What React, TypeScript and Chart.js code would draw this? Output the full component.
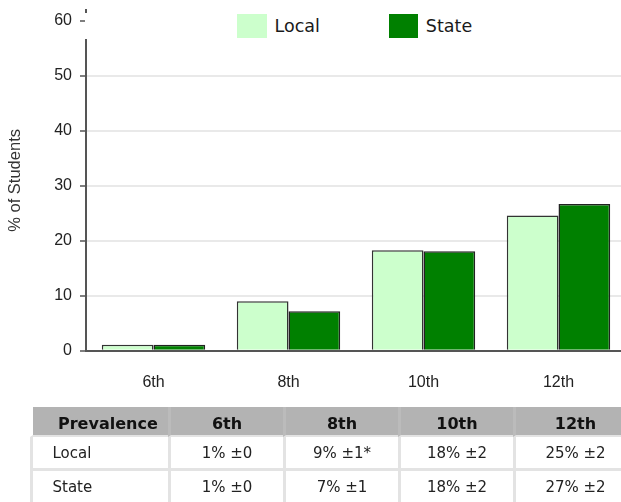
import React, { useEffect, useRef } from "react";
import { Chart, registerables } from "chart.js";

Chart.register(...registerables);

const categories = ["6th", "8th", "10th", "12th"];
const localValues = [1.1, 9.0, 18.3, 24.6];
const stateValues = [1.1, 7.2, 18.1, 26.7];
const yMax = 62;
const yStep = 10;

const seriesNames = ["Local", "State"];
const seriesColors = ["#ccffcc", "#008000"];

const tableHeaders = ["Prevalence", "6th", "8th", "10th", "12th"];
const localTable = ["1% ±0", "9% ±1*", "18% ±2", "25% ±2"];
const stateTable = ["1% ±0", "7% ±1", "18% ±2", "27% ±2"];
const colWidths = [138, 115, 115, 115, 122];

const tableFont = '"DejaVu Sans", Verdana, sans-serif';
const axisFont = '"Liberation Sans", Arial, sans-serif';

export default function App() {
  const canvasRef = useRef<HTMLCanvasElement | null>(null);

  useEffect(() => {
    const canvas = canvasRef.current;
    if (!canvas) return;
    const chart = new Chart(canvas, {
      type: "bar",
      data: {
        labels: categories,
        datasets: [
          {
            label: seriesNames[0],
            data: localValues,
            backgroundColor: seriesColors[0],
            borderColor: "#333333",
            borderWidth: 1.5,
            categoryPercentage: 0.766,
            barPercentage: 1.0,
          },
          {
            label: seriesNames[1],
            data: stateValues,
            backgroundColor: seriesColors[1],
            borderColor: "#222222",
            borderWidth: 1.5,
            categoryPercentage: 0.766,
            barPercentage: 1.0,
          },
        ],
      },
      options: {
        responsive: false,
        animation: false,
        devicePixelRatio: 1,
        layout: { padding: { top: 10, bottom: 0, left: 0, right: 0 } },
        plugins: {
          legend: { display: false },
          tooltip: { enabled: false },
        },
        scales: {
          x: {
            grid: { display: true, drawOnChartArea: false, drawTicks: false },
            border: { display: true, color: "#555555", width: 2 },
            ticks: {
              padding: 22,
              color: "#222222",
              font: { family: axisFont, size: 16 },
            },
          },
          y: {
            min: 0,
            max: yMax,
            afterFit: (scale: any) => {
              scale.width = 86;
              scale.paddingTop = 0;
              scale.paddingBottom = 0;
            },
            ticks: {
              stepSize: yStep,
              includeBounds: false,
              padding: 8,
              color: "#222222",
              font: { family: axisFont, size: 16 },
            },
            grid: {
              color: "#e9e9e9",
              lineWidth: 2,
              tickColor: "#555555",
              tickLength: 6,
              tickWidth: 1.5,
            },
            border: { display: true, color: "#555555", width: 2 },
            title: {
              display: true,
              text: "% of Students",
              color: "#333333",
              padding: { top: 6, bottom: 0 },
              font: { family: axisFont, size: 16.5 },
            },
          },
        },
      },
    });
    return () => chart.destroy();
  }, []);

  const thBase: React.CSSProperties = {
    background: "#b3b3b3",
    height: 30,
    padding: "5px 0 0 0",
    boxSizing: "border-box",
    fontFamily: tableFont,
    fontWeight: "bold",
    fontSize: 16,
    color: "#111111",
    textAlign: "center",
    borderBottom: "2px solid #e3e3e3",
    borderLeft: "3px solid #bbbbbb",
  };
  const tdBase: React.CSSProperties = {
    background: "#ffffff",
    height: 34,
    padding: 0,
    boxSizing: "border-box",
    fontFamily: tableFont,
    fontSize: 15,
    color: "#222222",
    textAlign: "center",
    borderLeft: "3px solid #e3e3e3",
    borderBottom: "3px solid #e3e3e3",
  };

  const renderRow = (name: string, values: string[]) => (
    <tr>
      <td style={{ ...tdBase, textAlign: "left", paddingLeft: 19.5 }}>{name}</td>
      {values.map((v, i) => (
        <td key={i} style={tdBase}>
          {v}
        </td>
      ))}
    </tr>
  );

  return (
    <div
      style={{
        position: "relative",
        width: 621,
        height: 502,
        overflow: "hidden",
        background: "#ffffff",
      }}
    >
      <style>{`body{margin:0;}`}</style>
      <canvas
        ref={canvasRef}
        width={626}
        height={414}
        style={{ display: "block", width: 626, height: 414 }}
      />
      <div
        style={{
          position: "absolute",
          left: 85,
          top: 13,
          right: 0,
          height: 26,
          background: "#ffffff",
          display: "flex",
          alignItems: "center",
          paddingLeft: 152,
          fontFamily: tableFont,
          fontSize: 17.5,
          color: "#1a1a1a",
        }}
      >
        <span
          style={{
            display: "inline-block",
            width: 29.5,
            height: 24,
            background: seriesColors[0],
            marginRight: 8,
          }}
        />
        <span style={{ marginRight: 69 }}>{seriesNames[0]}</span>
        <span
          style={{
            display: "inline-block",
            width: 29.5,
            height: 24,
            background: seriesColors[1],
            marginRight: 7.5,
          }}
        />
        <span>{seriesNames[1]}</span>
      </div>
      <table
        style={{
          position: "absolute",
          left: 30,
          top: 407,
          borderCollapse: "separate",
          borderSpacing: 0,
          tableLayout: "fixed",
          width: colWidths.reduce((a, b) => a + b, 0),
        }}
      >
        <colgroup>
          {colWidths.map((w, i) => (
            <col key={i} style={{ width: w }} />
          ))}
        </colgroup>
        <thead>
          <tr>
            {tableHeaders.map((h, i) => (
              <th
                key={i}
                style={
                  i === 0
                    ? { ...thBase, borderLeft: "3px solid #ffffff", textAlign: "left", paddingLeft: 25 }
                    : thBase
                }
              >
                {h}
              </th>
            ))}
          </tr>
        </thead>
        <tbody>
          {renderRow(seriesNames[0], localTable)}
          {renderRow(seriesNames[1], stateTable)}
        </tbody>
      </table>
    </div>
  );
}
